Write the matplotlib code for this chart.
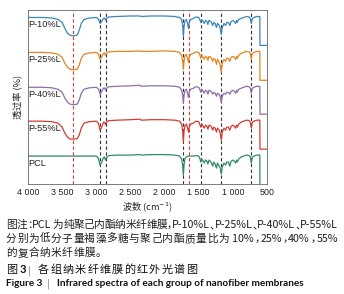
import re
import matplotlib
matplotlib.use("Agg")
import matplotlib.pyplot as plt
from matplotlib.font_manager import FontProperties
from matplotlib.textpath import TextPath

# --- wavenumber grid (cm-1), shared by all spectra ---
wavenumber = [4000, 3800, 3650, 3560, 3500, 3460, 3420, 3380, 3330, 3280,
              3250, 3220, 3180, 3100, 3000, 2970, 2945, 2920, 2895, 2880,
              2865, 2850, 2820, 2700, 2500, 2360, 2340, 2200, 2000, 1850,
              1780, 1750, 1735, 1725, 1715, 1700, 1680, 1660, 1650, 1640,
              1620, 1580, 1540, 1500, 1485, 1470, 1455, 1435, 1420, 1400,
              1380, 1365, 1350, 1320, 1295, 1280, 1260, 1240, 1225, 1200,
              1185, 1170, 1155, 1130, 1105, 1090, 1065, 1045, 1025, 1000,
              980, 960, 945, 935, 915, 880, 840, 800, 760, 745,
              730, 715, 690, 650, 615, 605, 603, 500]

# --- transmittance (%) ---
t_p10 = [95, 95, 94.5, 93, 90, 84, 79, 77, 76.5, 77.5,
         82, 89, 93, 94.5, 95, 93.5, 89, 91, 94, 94.5,
         92.5, 94, 95.5, 96, 96.5, 96.5, 96, 96.5, 96.5, 96,
         95, 93, 87, 76, 86, 92, 93, 88, 84, 90,
         93, 94, 95.5, 95, 93, 90, 93, 91, 89, 92,
         91, 88, 92, 91, 87, 90, 89, 85, 89, 87,
         84, 78, 85, 89, 87, 90, 90, 87, 91, 92,
         91, 89, 92, 90, 93, 94, 95, 96, 95.5, 94,
         89, 94, 95, 96, 96, 96, 67, 67]
t_p25 = [95, 95, 94.5, 93, 90, 84, 80, 78, 77.5, 78,
         82, 89, 93, 94.5, 95, 93.5, 88, 90.5, 94, 94.5,
         92, 94, 95.5, 96, 96, 96.5, 96, 96, 96.5, 96,
         95, 92, 86, 78, 86, 92, 93, 88, 85, 90,
         93, 94, 95.5, 95, 93, 89, 92, 90, 88, 91,
         90, 87, 91, 90, 86, 89, 88, 83, 88, 85,
         82, 75, 84, 88, 86, 89, 89, 86, 90, 91,
         90, 88, 91, 89, 92, 94, 95, 96, 95.5, 94,
         88, 94, 95, 96, 96, 96, 67, 67]
t_p40 = [95, 95, 94.5, 93, 90, 84, 80, 78, 77.5, 78,
         82, 89, 93, 94.5, 95, 93.5, 88, 90.5, 94, 94.5,
         92, 94, 95.5, 96, 96.5, 97, 96, 96.5, 96.5, 96,
         95, 92, 87, 79, 87, 92, 93, 88, 85, 90,
         93, 94, 95.5, 95, 93, 90, 93, 91, 89, 92,
         91, 88, 92, 91, 88, 90, 89, 86, 89, 88,
         85, 80, 86, 89, 88, 90, 90, 88, 91, 92,
         91, 89, 92, 90, 93, 94, 95, 96, 95.5, 94,
         89, 94, 95, 96, 96, 96, 68, 68]
t_p55 = [95, 95, 94.5, 93, 89, 83, 79, 77, 77, 77.5,
         81, 88, 93, 94.5, 95, 93, 86, 89, 94, 94,
         91.5, 94, 95.5, 96, 96.5, 97, 96, 96.5, 96.5, 96,
         95, 92, 85, 74, 85, 91, 92, 87, 84, 89,
         92, 93, 95, 94.5, 92, 89, 92, 90, 88, 91,
         90, 87, 91, 90, 86, 89, 88, 84, 88, 86,
         83, 76, 84, 88, 86, 89, 89, 86, 90, 91,
         90, 88, 91, 89, 92, 94, 95, 96, 95.5, 94,
         88, 94, 95, 96, 96, 96, 67, 67]
t_pcl = [95, 95, 95, 95, 95, 95, 95, 95, 95, 95,
         95, 95, 95, 95, 95, 93, 86, 89, 93.5, 94,
         91, 93.5, 95.5, 96, 96, 96.5, 96, 96.5, 96.5, 96,
         95, 92, 86, 76, 86, 93, 94, 95, 95, 95,
         95, 95, 95.5, 95, 93, 89, 92, 90, 88, 91,
         90, 87, 91, 89, 85, 89, 87, 83, 88, 85,
         83, 77, 84, 88, 86, 89, 89, 85, 90, 91,
         90, 88, 91, 89, 92, 94, 95, 96, 95.5, 94,
         88, 94, 95, 96, 96, 96, 60, 60]

labels = ["P-10%L", "P-25%L", "P-40%L", "P-55%L", "PCL"]
series = [t_p10, t_p25, t_p40, t_p55, t_pcl]
colors = ["#3a86c0", "#e5861f", "#8f6ea9", "#d63a30", "#2f8a6b"]
offsets = [72, 37, 2, -32, -67]

# marked bands
red_lines = [3340, 1640]
black_lines = [2940, 2865, 1725, 1470, 1170, 730]

xticks = [4000, 3500, 3000, 2500, 2000, 1500, 1000, 500]
xticklabels = ["4 000", "3 500", "3 000", "2 500", "2 000", "1 500", "1 000", "500"]

caption = [
    "图注：PCL 为纯聚己内酯纳米纤维膜，P-10%L、P-25%L、P-40%L、P-55%L",
    "分别为低分子量褐藻多糖与聚己内酯质量比为 10%，25%，40%，55%",
    "的复合纳米纤维膜。",
]
title_cn = "各组纳米纤维膜的红外光谱图"
title_en = "Infrared spectra of each group of nanofiber membranes"

cjk = ["Noto Sans CJK SC", "DejaVu Sans"]
W, H = 344, 294
PX = 100 / 72  # px per pt

fig = plt.figure(figsize=(3.44, 2.94), dpi=100)
ax = fig.add_axes([28 / W, 1 - 184 / H, 239 / W, 174.5 / H])

for x in red_lines:
    ax.axvline(x, color="#e03c31", lw=0.8, ls=(0, (3, 2.2)), zorder=1)
for x in black_lines:
    ax.axvline(x, color="#333333", lw=0.8, ls=(0, (3, 2.2)), zorder=1)

for lab, t, c, off in zip(labels, series, colors, offsets):
    ax.plot(wavenumber, [v + off for v in t], color=c, lw=0.9, zorder=2)
    ax.text(3990, 95 + off - 7, lab, fontsize=6.6, family="Liberation Sans",
            color="#222222", va="center", ha="left", zorder=3)

ax.set_xlim(4000, 500)
ax.set_ylim(0, 175)
ax.set_xticks(xticks)
ax.set_xticklabels(xticklabels, family="Liberation Sans", fontsize=6.4)
ax.set_yticks([])
ax.tick_params(axis="x", length=0, pad=3, colors="#222222")
for s in ax.spines.values():
    s.set_color("#666666")
    s.set_linewidth(0.6)

ax.set_xlabel("波数 (cm$^{-1}$)", family=cjk, fontsize=6.6, labelpad=2, color="#222222")
ax.set_ylabel("透过率 (%)", family=cjk, fontsize=6.6, labelpad=4, color="#222222")

# --- caption, placed token by token so lines can be justified ---
NOTO = "Noto Sans CJK SC"
HALF = "：，、。"


def advance(tok, size, weight):
    # advance width in px: ink("中 tok 中") - ink("中中")
    if tok in HALF:
        return 0.5 * size * PX
    prop = FontProperties(family=NOTO, weight=weight)
    a = TextPath((0, 0), "中" + tok + "中", size=size * PX, prop=prop).get_extents().width
    b = TextPath((0, 0), "中中", size=size * PX, prop=prop).get_extents().width
    return a - b


def put_line(s, y, x0, x1=None, size=7.7, weight="normal", gap=0.5, color="#1e1e1e"):
    toks = re.findall(r"[A-Za-z0-9%\-\.]+| |.", s)
    ws = [advance(tok, size, weight) for tok in toks]
    if x1 is not None:
        gap = (x1 - x0 - sum(ws)) / (len(toks) - 1)
    x = x0
    for tok, w in zip(toks, ws):
        if tok != " ":
            fig.text(x / W, 1 - y / H, tok, family=NOTO, fontsize=size, fontweight=weight,
                     va="baseline", ha="left", color=color)
        x += w + gap


put_line(caption[0], 228, 6, 338)
put_line(caption[1], 242, 6, 338)
put_line(caption[2], 256, 6)

# 图 3 | ...
put_line("图", 273, 6, size=8.0, color="#111111")
fig.text(19.5 / W, 1 - 273 / H, "3", family="Lato", fontsize=8.0, fontweight="bold",
         va="baseline", ha="left", color="#111111")
fig.text(28 / W, 1 - 273.5 / H, "|", family="DejaVu Sans", fontsize=7, color="#888888",
         va="baseline", ha="left")
put_line(title_cn, 273, 38, 197, size=8.0, color="#111111")

# Figure 3 | ...  (one size, fitted so the long part ends where it does)
lato_bold = FontProperties(family="Lato", weight="bold")
en_w = TextPath((0, 0), title_en, size=10, prop=lato_bold).get_extents().width
en_size = 10 / PX * (302 - 57) / en_w
fig.text(6 / W, 1 - 286 / H, "Figure 3", family="Lato", fontsize=en_size, fontweight="bold",
         va="baseline", ha="left", color="#111111")
fig.text(47 / W, 1 - 286.5 / H, "|", family="DejaVu Sans", fontsize=7, color="#888888",
         va="baseline", ha="left")
fig.text(57 / W, 1 - 286 / H, title_en, family="Lato", fontsize=en_size, fontweight="bold",
         va="baseline", ha="left", color="#111111")

fig.savefig("out.png", dpi=100)
